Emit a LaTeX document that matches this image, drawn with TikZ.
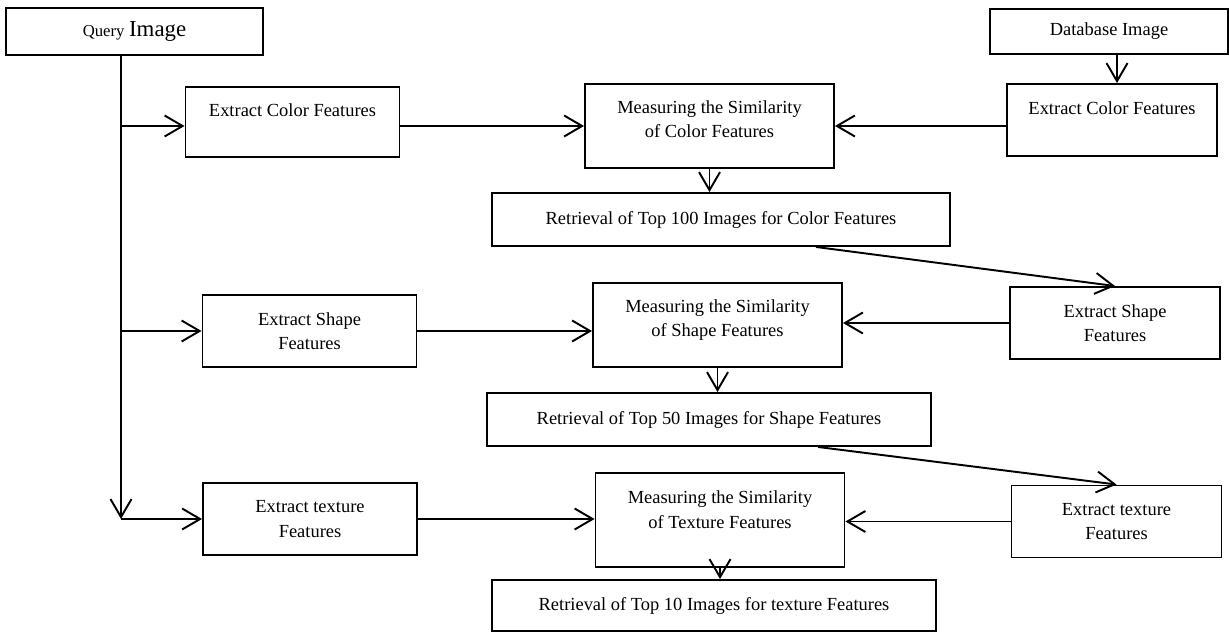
\documentclass[tikz,border=0pt]{standalone}
\usepackage{fontspec}
\setmainfont{Liberation Serif}
\usetikzlibrary{arrows.meta}
\begin{document}
\begin{tikzpicture}[x=0.2mm,y=-0.2mm,line width=1.1pt,box/.style={shape=rectangle,draw=black,align=center,inner sep=0pt,font=\fontsize{10.5}{14}\selectfont},arr/.style={-{Straight Barb[length=3.6mm,width=4.2mm]}}]
\def\pxl{0.2mm};
\def\wl{214};
\def\wm{249};
\def\wr{210};
\def\hs{72};
\def\hm{84};

\useasboundingbox (0,0) rectangle (1229,632);

\node[box,minimum width=257*\pxl,minimum height=47*\pxl] (Q) at (134.5,31.5) {{\fontsize{9.5}{11}\selectfont Query} {\fontsize{13}{15}\selectfont Image}};
\node[box,minimum width=238*\pxl,minimum height=45*\pxl] (DB) at (1109,31.5) {Database Image};

\node[box,minimum width=\wl*\pxl,minimum height=70*\pxl] (ECL) at (292.5,122) {Extract Color Features\\\mbox{}};
\node[box,minimum width=\wm*\pxl,minimum height=\hm*\pxl] (MC) at (709.5,126) {Measuring the Similarity\\of Color Features\\[-6pt]\mbox{}};
\node[box,minimum width=\wr*\pxl,minimum height=\hs*\pxl] (ECR) at (1112,120) {Extract Color Features\\\mbox{}};
\node[box,minimum width=458*\pxl,minimum height=53*\pxl] (R100) at (721,219.5) {Retrieval of Top 100 Images for Color Features};

\node[box,minimum width=\wl*\pxl,minimum height=\hs*\pxl] (ESL) at (309.5,331) {Extract Shape\\Features};
\node[box,minimum width=\wm*\pxl,minimum height=\hm*\pxl] (MS) at (717.5,325) {Measuring the Similarity\\of Shape Features\\[-6pt]\mbox{}};
\node[box,minimum width=\wr*\pxl,minimum height=\hs*\pxl] (ESR) at (1115,323) {Extract Shape\\Features};
\node[box,minimum width=444*\pxl,minimum height=53*\pxl] (R50) at (709,419.5) {Retrieval of Top 50 Images for Shape Features};

\node[box,minimum width=\wl*\pxl,minimum height=\hs*\pxl] (ETL) at (310,519) {Extract texture\\Features};
\node[box,minimum width=\wm*\pxl,minimum height=94*\pxl] (MT) at (720,520) {Measuring the Similarity\\of Texture Features\\[-2pt]\mbox{}};
\node[box,minimum width=\wr*\pxl,minimum height=\hs*\pxl] (ETR) at (1116.5,521.5) {Extract texture\\Features};
\node[box,minimum width=444*\pxl,minimum height=51*\pxl] (R10) at (714,605.5) {Retrieval of Top 10 Images for texture Features};

\coordinate (QS) at ([xshift=-13.5*\pxl]Q.south);
\draw[arr] (QS) -- (QS |- ETL.west);
\draw[arr] (QS |- ETL.west) -- (ETL.west);
\draw[arr] (QS |- MC) -- (ECL.west |- MC);
\draw[arr] (QS |- ESL.west) -- (ESL.west);

\draw[arr] ([xshift=8*\pxl]DB.south) -- ([xshift=8*\pxl]DB.south |- ECR.north);

\draw[arr] (ECL.east |- MC) -- (MC.west);
\draw[arr] (ECR.west |- MC) -- (MC.east);
\draw[arr] (MC.south) -- (MC.south |- R100.north);
\draw[arr] ([xshift=95*\pxl]R100.south) -- (ESR.north);

\draw[arr] (ESL.east) -- (ESL.east -| MS.west);
\draw[arr] (ESR.west) -- (ESR.west -| MS.east);
\draw[arr] (MS.south) -- (MS.south |- R50.north);
\draw[arr] ([xshift=109*\pxl]R50.south) -- (ETR.north);

\draw[arr] (ETL.east) -- (ETL.east -| MT.west);
\draw[arr] (ETR.west) -- (ETR.west -| MT.east);
\draw[arr] (MT.south) -- (MT.south |- R10.north);
\end{tikzpicture}
\end{document}
